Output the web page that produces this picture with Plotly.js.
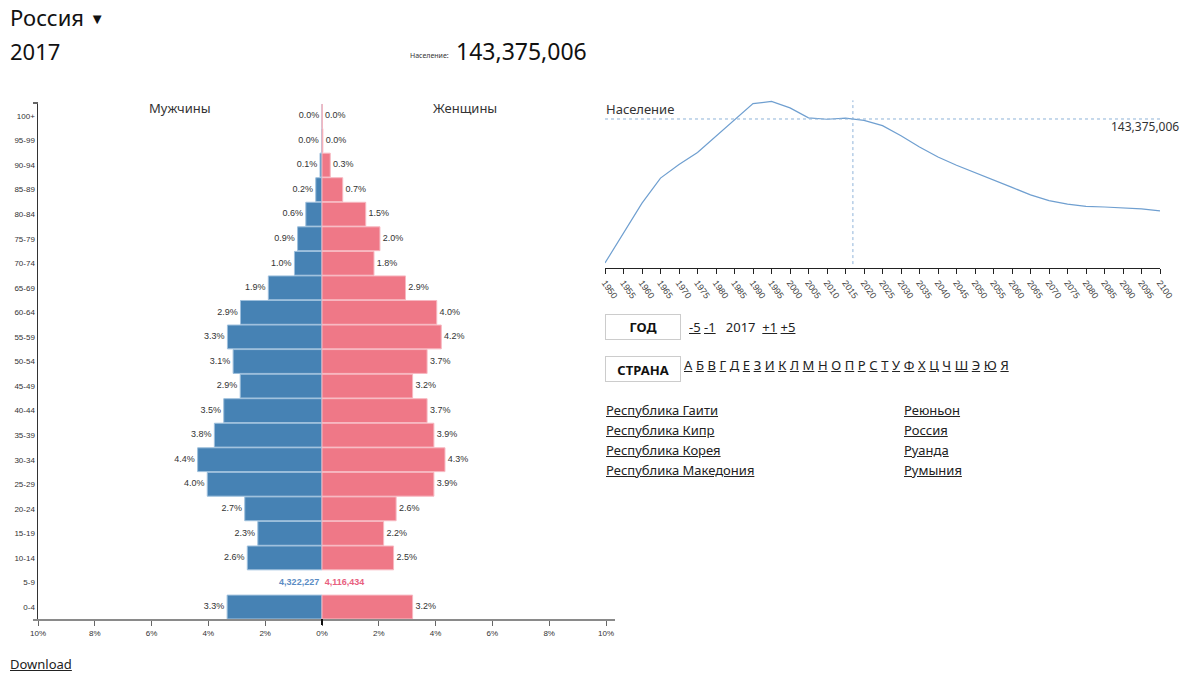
<!DOCTYPE html>
<html>
<head>
<meta charset="utf-8">
<script src="https://cdn.plot.ly/plotly-3.0.1.min.js"></script>
<style>
  html, body { margin: 0; padding: 0; background: #fff; }
  #wrap { position: relative; width: 1200px; height: 677px; overflow: hidden; font-family: "Noto Sans", "Open Sans", sans-serif; color: #222; }
  #chart { position: absolute; left: 0; top: 0; width: 1200px; height: 677px; }
  .abs { position: absolute; white-space: nowrap; }
  a { color: #222; text-decoration: underline; }
  .box { position: absolute; border: 1px solid #ccc; box-sizing: border-box; font-weight: bold; font-size: 13px; text-align: center; color: #111; background: #fff; }
</style>
</head>
<body>
<div id="wrap">
  <div id="chart"></div>
  <div class="abs" style="left:10px; top:2px; font-size:22px; color:#111;">Россия <span style="font-size:15px; position:relative; top:-2px;">▼</span></div>
  <div class="abs" style="left:10px; top:36px; font-size:22px; color:#111;">2017</div>
  <div class="abs" style="left:410px; top:51px; font-size:7px; color:#333;">Население:</div>
  <div class="abs" style="left:456px; top:35px; font-size:23px; color:#111;">143,375,006</div>

  <div class="box" style="left:605px; top:314px; width:76px; height:26px; line-height:25px;">ГОД</div>
  <div class="abs" style="left:689px; top:318px; font-size:13px;"><a>-5</a> <a>-1</a>&nbsp;&nbsp; 2017 &nbsp;<a>+1</a> <a>+5</a></div>

  <div class="box" style="left:605px; top:356px; width:76px; height:26px; line-height:27px;">СТРАНА</div>
  <div class="abs" id="alpha" style="left:684px; top:356px; font-size:13px; word-spacing:0.2px;"></div>

  <div class="abs" id="col1" style="left:606px; top:400px; font-size:13px; line-height:20px;"></div>
  <div class="abs" id="col2" style="left:904px; top:400px; font-size:13px; line-height:20px;"></div>

  <div class="abs" style="left:10px; top:655px; font-size:13px;"><a>Download</a></div>
</div>
<script>
// ---------- DATA ----------
const ageGroups = ["0-4","5-9","10-14","15-19","20-24","25-29","30-34","35-39","40-44","45-49","50-54","55-59","60-64","65-69","70-74","75-79","80-84","85-89","90-94","95-99","100+"];
const malePct   = [3.34, null, 2.63, 2.26, 2.72, 4.04, 4.38, 3.79, 3.46, 2.88, 3.13, 3.33, 2.87, 1.89, 0.97, 0.86, 0.57, 0.22, 0.07, 0.01, 0.00];
const femalePct = [3.19, null, 2.52, 2.17, 2.61, 3.94, 4.33, 3.94, 3.70, 3.19, 3.70, 4.20, 4.04, 2.94, 1.83, 2.04, 1.54, 0.73, 0.29, 0.03, 0.01];
const highlightGroup = "5-9";
const maleCount = 4322227;
const femaleCount = 4116434;
const pctTicks = [-10,-8,-6,-4,-2,0,2,4,6,8,10];
const pctTickText = ["10%","8%","6%","4%","2%","0%","2%","4%","6%","8%","10%"];

const years = [1950,1955,1960,1965,1970,1975,1980,1985,1990,1995,2000,2005,2010,2015,2020,2025,2030,2035,2040,2045,2050,2055,2060,2065,2070,2075,2080,2085,2090,2095,2100];
const populationM = [103.0,111.4,119.8,126.8,130.6,134.0,138.5,143.2,147.7,148.3,146.5,143.7,143.3,143.6,143.0,141.5,138.7,135.5,132.7,130.4,128.4,126.4,124.2,122.1,120.5,119.5,118.9,118.7,118.5,118.2,117.6];
const currentYear = 2017;
const currentPop = 143375006;

const letters = ["А","Б","В","Г","Д","Е","З","И","К","Л","М","Н","О","П","Р","С","Т","У","Ф","Х","Ц","Ч","Ш","Э","Ю","Я"];
const countriesCol1 = ["Республика Гаити","Республика Кипр","Республика Корея","Республика Македония"];
const countriesCol2 = ["Реюньон","Россия","Руанда","Румыния"];

// ---------- HTML bits ----------
document.getElementById('alpha').innerHTML = letters.map(l => '<a>' + l + '</a>').join(' ');
document.getElementById('col1').innerHTML = countriesCol1.map(c => '<a>' + c + '</a>').join('<br>');
document.getElementById('col2').innerHTML = countriesCol2.map(c => '<a>' + c + '</a>').join('<br>');

// ---------- helpers ----------
const W = 1200, H = 677;
const px = x => x / W;
const py = y => 1 - y / H;
const fmt = n => n.toLocaleString('en-US');

const BLUE = '#4682b4', PINK = '#ef7887';
const lblFont = {family: 'Liberation Sans, Arial, sans-serif', size: 9, color: '#333'};

// ---------- traces ----------
const maleBar = {
  type: 'bar', orientation: 'h', y: ageGroups, x: malePct.map(v => v == null ? null : -v),
  marker: {color: BLUE, line: {color: '#9dbfdc', width: 1}},
  xaxis: 'x', yaxis: 'y', hoverinfo: 'skip'
};
const femaleBar = {
  type: 'bar', orientation: 'h', y: ageGroups, x: femalePct,
  marker: {color: PINK, line: {color: '#f7b8c1', width: 1}},
  xaxis: 'x', yaxis: 'y', hoverinfo: 'skip'
};
const maleLbl = {
  type: 'scatter', mode: 'text', y: ageGroups.filter((g, i) => malePct[i] != null),
  x: malePct.filter(v => v != null).map(v => -v - 0.1),
  text: malePct.filter(v => v != null).map(v => v.toFixed(1) + '%'),
  textposition: 'middle left', textfont: lblFont, xaxis: 'x', yaxis: 'y', hoverinfo: 'skip', cliponaxis: false
};
const femaleLbl = {
  type: 'scatter', mode: 'text', y: ageGroups.filter((g, i) => femalePct[i] != null),
  x: femalePct.filter(v => v != null).map(v => v + 0.1),
  text: femalePct.filter(v => v != null).map(v => v.toFixed(1) + '%'),
  textposition: 'middle right', textfont: lblFont, xaxis: 'x', yaxis: 'y', hoverinfo: 'skip', cliponaxis: false
};
const countLbl = {
  type: 'scatter', mode: 'text', y: [highlightGroup, highlightGroup], x: [-0.1, 0.1],
  text: ['<b>' + fmt(maleCount) + '</b>', '<b>' + fmt(femaleCount) + '</b>'], textposition: ['middle left', 'middle right'],
  textfont: {family: 'Liberation Sans, Arial, sans-serif', size: 9, color: ['#5b8cc4', '#e8607e']},
  xaxis: 'x', yaxis: 'y', hoverinfo: 'skip', cliponaxis: false
};
const popLine = {
  type: 'scatter', mode: 'lines', x: years, y: populationM,
  line: {color: '#6f9fd0', width: 1.2}, xaxis: 'x2', yaxis: 'y2', hoverinfo: 'skip'
};

// ---------- layout ----------
const pyrTop = 103.7, pyrBot = 619.3;
const lnTop = 100, lnBot = 268;
const layout = {
  width: W, height: H, margin: {l: 0, r: 0, t: 0, b: 0},
  paper_bgcolor: '#fff', plot_bgcolor: 'rgba(0,0,0,0)',
  showlegend: false, barmode: 'overlay', bargap: 0.03,
  font: {family: 'Liberation Sans, Arial, sans-serif', color: '#333'},
  xaxis: {
    domain: [px(38), px(606)], range: [-10, 10], anchor: 'y',
    tickvals: pctTicks, ticktext: pctTickText, tickfont: {size: 8, color: '#333'},
    showline: true, linecolor: '#8a8a8a', linewidth: 2, ticks: 'outside', ticklen: 5, tickcolor: '#666', tickwidth: 1,
    showgrid: false, zeroline: false, fixedrange: true
  },
  yaxis: {
    domain: [py(pyrBot), py(pyrTop)], type: 'category', categoryorder: 'array', categoryarray: ageGroups,
    range: [-0.5, 20.5], anchor: 'x', tickfont: {size: 8, color: '#333'}, ticks: '', ticklen: 0,
    showline: true, linecolor: '#333', linewidth: 1.5, showgrid: false, zeroline: false, fixedrange: true
  },
  xaxis2: {
    domain: [px(605), px(1160)], range: [1950, 2100], anchor: 'y2',
    tickvals: years, ticktext: years.map(String), tickangle: 55, tickfont: {size: 9, color: '#444'},
    showline: true, linecolor: '#222', linewidth: 1, ticks: 'outside', ticklen: 5, tickcolor: '#222',
    showgrid: false, zeroline: false, fixedrange: true
  },
  yaxis2: {
    domain: [py(lnBot), py(lnTop)], range: [101.6, 148.7], anchor: 'x2', visible: false, fixedrange: true
  },
  shapes: [
    {type: 'line', xref: 'x2', yref: 'y2', x0: 1950, x1: 2100, y0: currentPop / 1e6, y1: currentPop / 1e6,
     line: {color: '#8fb3d9', width: 1, dash: 'dot'}},
    {type: 'line', xref: 'x2', yref: 'y2', x0: currentYear, x1: currentYear, y0: 102.7, y1: 148.6,
     line: {color: '#8fb3d9', width: 1, dash: 'dot'}},
    {type: 'line', xref: 'paper', yref: 'paper', x0: px(33), x1: px(38), y0: py(103), y1: py(103),
     line: {color: '#333', width: 1.5}},
    {type: 'line', xref: 'paper', yref: 'paper', x0: px(33), x1: px(38), y0: py(620), y1: py(620),
     line: {color: '#8a8a8a', width: 2}},
    {type: 'line', xref: 'paper', yref: 'paper', x0: px(606), x1: px(615), y0: py(620), y1: py(620),
     line: {color: '#8a8a8a', width: 2}},
    {type: 'line', xref: 'x', yref: 'paper', x0: 0, x1: 0, y0: py(619), y1: py(625),
     line: {color: '#111', width: 2}}
  ],
  annotations: [
    {xref: 'paper', yref: 'paper', x: px(180), y: py(108), text: 'Мужчины', showarrow: false,
     xanchor: 'center', yanchor: 'middle', font: {family: 'Noto Sans, sans-serif', size: 13, color: '#333'}},
    {xref: 'paper', yref: 'paper', x: px(465), y: py(108), text: 'Женщины', showarrow: false,
     xanchor: 'center', yanchor: 'middle', font: {family: 'Noto Sans, sans-serif', size: 13, color: '#333'}},
    {xref: 'paper', yref: 'paper', x: px(604), y: py(109), text: 'Население', showarrow: false,
     xanchor: 'left', yanchor: 'middle', font: {family: 'Noto Sans, sans-serif', size: 13, color: '#333'}},
    {xref: 'paper', yref: 'paper', x: px(1181), y: py(126), text: fmt(currentPop), showarrow: false,
     xanchor: 'right', yanchor: 'middle', font: {family: 'Noto Sans, sans-serif', size: 12, color: '#333'}}
  ]
};

Plotly.newPlot('chart', [maleBar, femaleBar, maleLbl, femaleLbl, countLbl, popLine], layout, {staticPlot: true, displayModeBar: false});
</script>
</body>
</html>
